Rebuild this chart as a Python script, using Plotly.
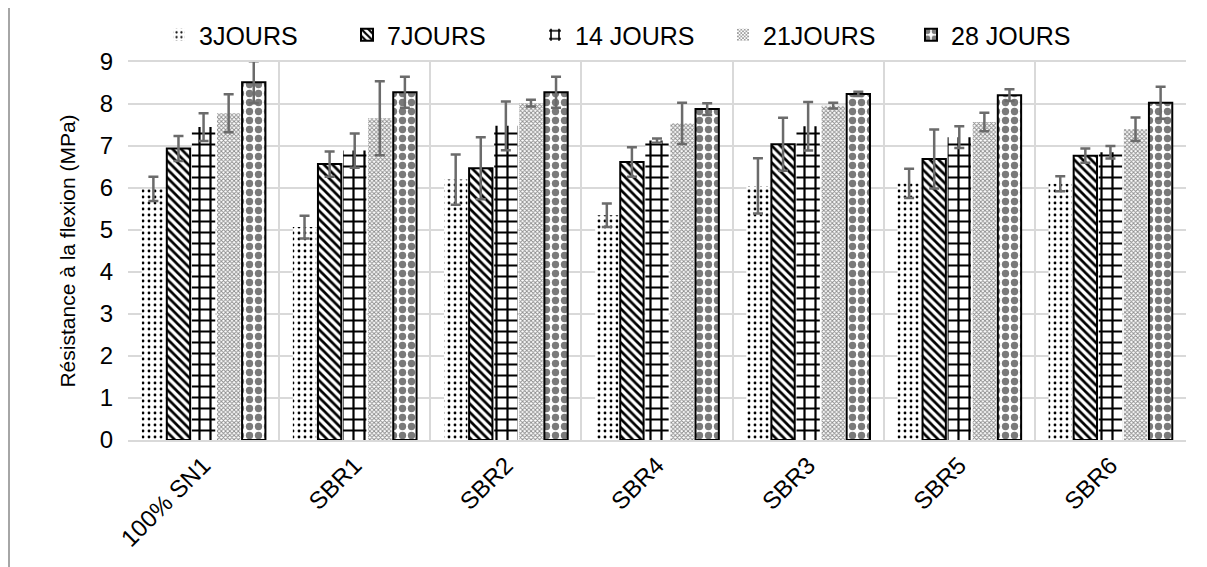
import plotly.graph_objects as go

categories = ["100% SN1", "SBR1", "SBR2", "SBR4", "SBR3", "SBR5", "SBR6"]
series_names = ["3JOURS", "7JOURS", "14 JOURS", "21JOURS", "28 JOURS"]

j3 = [5.98, 5.07, 6.20, 5.35, 6.05, 6.11, 6.10]
j3_err = [0.29, 0.27, 0.60, 0.28, 0.66, 0.35, 0.18]
j7 = [6.94, 6.57, 6.47, 6.62, 7.04, 6.69, 6.77]
j7_err = [0.30, 0.30, 0.74, 0.35, 0.63, 0.70, 0.17]
j14 = [7.45, 6.89, 7.48, 7.13, 7.47, 7.21, 6.85]
j14_err = [0.33, 0.41, 0.58, 0.05, 0.58, 0.26, 0.15]
j21 = [7.78, 7.66, 8.02, 7.54, 7.96, 7.57, 7.40]
j21_err = [0.45, 0.88, 0.08, 0.49, 0.07, 0.22, 0.28]
j28 = [8.52, 8.28, 8.28, 7.88, 8.24, 8.21, 8.03]
j28_err = [0.50, 0.37, 0.37, 0.14, 0.05, 0.14, 0.38]

values = [j3, j7, j14, j21, j28]
errors = [j3_err, j7_err, j14_err, j21_err, j28_err]

patterns = [
    dict(shape=".", fgcolor="black", bgcolor="white", size=6, solidity=0.17),
    dict(shape="\\", fgcolor="black", bgcolor="white", size=6, solidity=0.45),
    dict(shape="+", fgcolor="black", bgcolor="white", size=11, solidity=0.36),
    dict(shape="x", fgcolor="#8a8a8a", bgcolor="white", size=3, solidity=0.5),
    dict(shape=".", fgcolor="#7a7a7a", bgcolor="white", size=9, solidity=0.52),
]
outlines = [0, 2, 0, 0, 2]

FONT = "Arial, Liberation Sans, sans-serif"

# page body has an 8px margin in the browser, so margins are offset by 8px
fig = go.Figure()
for name, v, e, p, lw in zip(series_names, values, errors, patterns, outlines):
    p = dict(p, fillmode="replace", fgopacity=1)
    fig.add_trace(go.Bar(
        name=name, x=categories, y=v,
        marker=dict(color="white", pattern=p, opacity=1,
                    line=dict(color="black", width=lw)),
        error_y=dict(type="data", array=e, visible=True,
                     color="#6b6b6b", thickness=2.5, width=5),
    ))

fig.update_layout(
    width=1207, height=559,
    margin=dict(l=120, r=29, t=54, b=127, autoexpand=False),
    paper_bgcolor="white", plot_bgcolor="white",
    barmode="group", bargap=0.17, bargroupgap=0.07,
    font=dict(family=FONT, size=24, color="black"),
    legend=dict(orientation="h", x=31 / 1058, xanchor="left",
                y=1 + (62 - 35) / 378, yanchor="middle", font=dict(size=25),
                bgcolor="rgba(0,0,0,0)", itemwidth=30,
                entrywidth=143, entrywidthmode="pixels"),
    showlegend=True,
)
fig.update_xaxes(
    type="category", tickson="boundaries", showgrid=True, automargin=False,
    gridcolor="#d9d9d9", gridwidth=1.5, tickangle=-45, ticks="",
    showline=True, linecolor="#d9d9d9", linewidth=1.5, mirror=True,
    tickfont=dict(size=24),
)
fig.update_yaxes(
    range=[0, 9], dtick=1, showgrid=True, gridcolor="#d9d9d9", gridwidth=1.5,
    zeroline=False, ticks="", ticklabelstandoff=14, automargin=False,
    title=dict(text="Résistance à la flexion (MPa)", font=dict(size=21), standoff=18),
    tickfont=dict(size=24),
)
fig.add_shape(type="line", xref="paper", yref="paper",
              x0=-119 / 1058, x1=-119 / 1058, y0=-127 / 378, y1=1 + 54 / 378,
              line=dict(color="#a6a6a6", width=2))

fig.write_html("out.html")
